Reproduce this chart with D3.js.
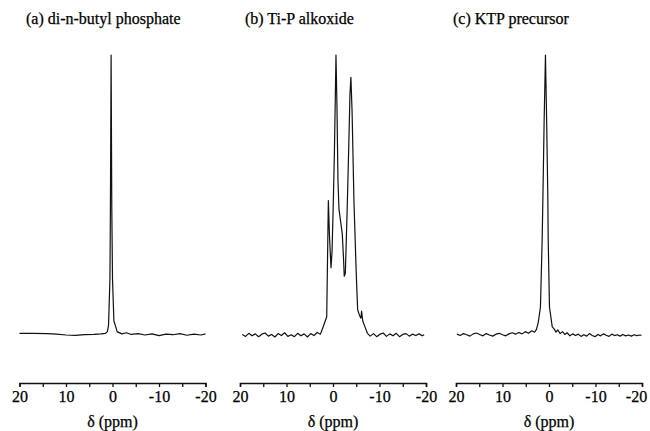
<!DOCTYPE html>
<html>
<head>
<meta charset="utf-8">
<script src="https://cdn.jsdelivr.net/npm/d3@7"></script>
<style>
  body { margin: 0; background: #fff; }
  svg { display: block; }
  svg text { font-family: "Liberation Serif", "Times New Roman", serif; }
</style>
</head>
<body>
<div id="chart"></div>
<script>
// spectra as [ppm, intensity] pairs, intensity in % of the tallest peak
const titles = ["(a) di-n-butyl phosphate", "(b) Ti-P alkoxide", "(c) KTP precursor"];
const tickValues = [20, 15, 10, 5, 0, -5, -10, -15, -20];
const axisLabel = "\u03b4 (ppm)";

const specA = [
  [20, 0.6], [17, 0.6], [14, 0.5], [12, 0.3], [10, 0.0], [8, -0.1], [6, 0.1], [4, 0.2],
  [2.5, 0.4], [1.5, 0.6], [1.1, 1.2], [0.85, 3.5], [0.55, 20], [0.45, 45], [0.3, 100],
  [0.15, 45], [0.0, 20], [-0.3, 5], [-0.5, 4], [-1.0, 1.2], [-2, 0.4], [-3, 0.8],
  [-4, 0.2], [-5.5, 0.5], [-7, 0.0], [-8.5, 0.4], [-10, -0.2], [-11.5, 0.3], [-13, 0.1],
  [-14.5, 0.5], [-16, -0.1], [-17.5, 0.3], [-19, 0.0], [-20, 0.4]
];

const specB = [
  [19.5, 0.2], [18.8, -0.5], [18.1, 0.6], [17.4, -0.3], [16.7, 0.4], [16.0, -0.6],
  [15.3, 0.3], [14.6, 0.7], [13.9, -0.4], [13.2, 0.2], [12.5, -0.7], [11.8, 0.5],
  [11.1, -0.2], [10.4, 0.8], [9.7, -0.5], [9.0, 0.1], [8.3, -0.6], [7.6, 0.6],
  [6.9, -0.3], [6.2, 0.4], [5.5, -0.7], [4.8, 0.5], [4.1, -0.2], [3.4, 0.9], [2.7, 0.3],
  [2.2, 2.5], [1.35, 6.5], [1.0, 48], [0.75, 35], [0.43, 24], [0.2, 30], [-0.06, 47],
  [-0.3, 65], [-0.5, 85], [-0.64, 100], [-0.85, 82], [-1.07, 55], [-1.28, 45],
  [-2.0, 36], [-2.27, 27], [-2.42, 21], [-2.65, 22], [-3.05, 45], [-3.4, 68],
  [-3.65, 86], [-3.85, 92], [-4.1, 80], [-4.5, 48], [-5.0, 22], [-5.3, 9], [-5.7, 7],
  [-6.0, 6], [-6.15, 8.5], [-6.4, 5], [-6.9, 2.8], [-7.4, 0.6], [-8.0, -0.4],
  [-8.7, 0.5], [-9.4, -0.6], [-10.1, 0.3], [-10.8, 0.7], [-11.5, -0.5], [-12.2, 0.4],
  [-12.9, -0.3], [-13.6, 0.6], [-14.3, -0.6], [-15.0, 0.2], [-15.7, 0.5], [-16.4, -0.4],
  [-17.1, 0.3], [-17.8, -0.2], [-18.5, 0.4], [-19.2, -0.3], [-19.6, 0.1]
];

const specC = [
  [19.8, 0.3], [19.1, -0.2], [18.4, 0.5], [17.7, 0.1], [17.0, -0.4], [16.3, 0.4],
  [15.6, 0.7], [14.9, 0.2], [14.2, -0.3], [13.5, 0.5], [12.8, 0.0], [12.1, -0.4],
  [11.4, 0.3], [10.7, 0.6], [10.0, 0.1], [9.3, -0.3], [8.6, 0.4], [7.9, 0.8], [7.2, 0.3],
  [6.5, 0.9], [5.8, 0.4], [5.1, 1.2], [4.4, 0.6], [3.7, 1.5], [3.1, 1.0], [2.7, 2.0],
  [2.33, 4.3], [1.84, 10], [1.47, 34], [1.3, 50], [1.05, 76], [0.76, 100], [0.5, 76],
  [0.26, 50], [0.17, 34], [-0.1, 10], [-0.7, 2.9], [-1.1, 2.2], [-1.5, 1.0], [-1.9, 1.8],
  [-2.4, 0.5], [-2.9, 1.2], [-3.4, 0.2], [-3.9, 0.8], [-4.5, -0.3], [-5.1, 0.4],
  [-5.7, -0.2], [-6.3, 0.3], [-6.9, -0.5], [-7.5, 0.1], [-8.1, -0.4], [-8.7, 0.5],
  [-9.3, -0.2], [-9.9, -0.6], [-10.5, 0.2], [-11.1, -0.3], [-11.7, 0.4], [-12.3, -0.1],
  [-12.9, -0.5], [-13.5, 0.3], [-14.1, -0.2], [-14.7, 0.1], [-15.3, -0.4], [-15.9, 0.2],
  [-16.5, -0.3], [-17.1, 0.0], [-17.7, -0.4], [-18.3, 0.1], [-18.9, -0.2], [-19.5, 0.0],
  [-19.9, -0.1]
];

const width = 650, height = 431;

// left edge of each panel's ppm axis (x of +20 ppm)
const panelLeft = [19.5, 240, 456];
const panelW = 186;
const titleX = [26, 245, 453];
const axisY = 383;

const svg = d3.select("#chart").append("svg")
  .attr("width", width)
  .attr("height", height);

const y = d3.scaleLinear().domain([0, 100]).range([335, 55]);

const spectra = [specA, specB, specC];

spectra.forEach((spec, i) => {
  const x = d3.scaleLinear().domain([20, -20]).range([panelLeft[i], panelLeft[i] + panelW]);
  const g = svg.append("g");

  g.append("text")
    .attr("x", titleX[i])
    .attr("y", 23.5)
    .attr("font-size", 16)
    .attr("fill", "#000")
    .attr("stroke", "#000")
    .attr("stroke-width", 0.25)
    .text(titles[i]);

  const line = d3.line()
    .x(d => x(d[0]))
    .y(d => y(d[1]));

  g.append("path")
    .datum(spec)
    .attr("fill", "none")
    .attr("stroke", "#111")
    .attr("stroke-width", 1.2)
    .attr("stroke-linejoin", "round")
    .attr("d", line);

  const axis = d3.axisBottom(x)
    .tickValues(tickValues)
    .tickSizeInner(4)
    .tickSizeOuter(4)
    .tickPadding(3.5)
    .tickFormat(d => d % 10 === 0 ? String(d) : "");

  const ax = g.append("g")
    .attr("transform", `translate(0,${axisY})`)
    .call(axis);
  ax.attr("font-family", null);
  ax.select(".domain").attr("stroke", "#111").attr("stroke-width", 1.5);
  ax.selectAll(".tick line").attr("stroke", "#111").attr("stroke-width", 1.3);
  ax.selectAll(".tick text")
    .attr("font-size", 16)
    .attr("fill", "#000")
    .attr("stroke", "#000")
    .attr("stroke-width", 0.25);
  // the last panel's -20 sits against the page edge in the original
  if (i === 2) ax.selectAll(".tick text").filter(d => d === -20).attr("dx", -6);

  g.append("text")
    .attr("x", x(0))
    .attr("y", 427)
    .attr("text-anchor", "middle")
    .attr("font-size", 16)
    .attr("fill", "#000")
    .attr("stroke", "#000")
    .attr("stroke-width", 0.25)
    .text(axisLabel);
});
</script>
</body>
</html>
